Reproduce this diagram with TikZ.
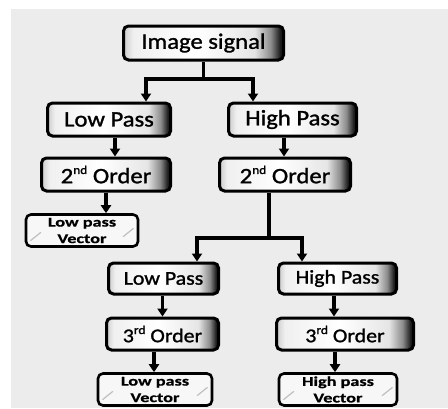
\documentclass[tikz,border=0pt]{standalone}
\usepackage{fontspec}
\setmainfont{Carlito}
\newfontfamily\bigf[FakeStretch=1.12,FakeBold=1.3]{Carlito}
\newfontfamily\smallf[FakeStretch=1.35,FakeBold=0.8]{Carlito}
\newcommand\ordsup[1]{\raisebox{0.42em}{\fontsize{12}{12}\selectfont #1}}
\usetikzlibrary{arrows.meta}
\definecolor{bg}{HTML}{ECECEC}
\pgfdeclarehorizontalshading{boxsh}{100bp}{color(0bp)=(black!20); color(25bp)=(black!20); color(28bp)=(black!6); color(48bp)=(white); color(66bp)=(black!10); color(71bp)=(black!45); color(74bp)=(black!90); color(100bp)=(black!90)}
\begin{document}
\begin{tikzpicture}[x=1pt,y=-1pt,
  bigbox/.style={draw=black, line width=3pt, rounded corners=5pt, shading=boxsh,
    minimum height=33pt, inner sep=0pt, font=\bigf\fontsize{22}{24}\selectfont},
  lowbox/.style={bigbox, minimum height=31pt, font=\bigf\fontsize{19.5}{22}\selectfont},
  vecbox/.style={draw=black, line width=2.6pt, rounded corners=5pt, fill=black!3,
    minimum height=32pt, inner sep=0pt, align=center,
    font=\smallf\bfseries\fontsize{13.5}{16.5}\selectfont},
  streak/.style={draw=black!25, line width=1.2pt, line cap=round},
  ln/.style={line width=3.3pt},
  arr/.style={line width=3.3pt, -{Triangle[width=10pt,length=8pt]}}]
\useasboundingbox (0,0) rectangle (448,408);
\fill[bg] (11,9) rectangle (448,408);

% boxes
\node[bigbox, minimum width=160pt, minimum height=34pt] (img) at (203.5,43) {Image signal};
\node[bigbox, minimum width=123pt] (lp1) at (109,119.5) {Low Pass};
\node[bigbox, minimum width=128pt] (hp1) at (292.5,119.5) {High Pass};
\node[bigbox, minimum width=129pt] (o2l) at (106,174.5) {2\ordsup{nd} Order};
\node[bigbox, minimum width=131pt] (o2r) at (285,174.5) {2\ordsup{nd} Order};
\node[vecbox, minimum width=112pt] (vl1) at (82,230.5) {Low pass\\Vector};
\node[lowbox, minimum width=110pt] (lp2) at (163.5,278.5) {Low Pass};
\node[lowbox, minimum width=118pt] (hp2) at (337.5,278.5) {High Pass};
\node[lowbox, minimum width=112pt, minimum height=32pt] (o3l) at (162.5,334) {3\ordsup{rd} Order};
\node[lowbox, minimum width=137pt, minimum height=32pt] (o3r) at (345,334) {3\ordsup{rd} Order};
\node[vecbox, minimum width=114pt] (vl2) at (155,389.5) {Low pass\\Vector};
\node[vecbox, minimum width=118pt] (vh2) at (338,389.5) {High pass\\Vector};

% streaks on vector boxes
\foreach \b in {vl1,vl2,vh2}{
  \draw[streak] ([shift={(6,10)}]\b.west) -- ([shift={(16,2)}]\b.west);
  \draw[streak] ([shift={(-16,6)}]\b.east) -- ([shift={(-6,-2)}]\b.east);
}

% connectors: first split
\coordinate (j1) at (204,79);
\coordinate (jl) at (146,79);
\coordinate (jr) at (253,79);
\draw[ln] (img.south) -- (img.south |- j1);
\draw[ln, line cap=rect] (jl) -- (jr);
\draw[arr] (jl) -- (jl |- lp1.north);
\draw[arr] (jr) -- (jr |- hp1.north);

\draw[arr] ([xshift=6pt]lp1.south) -- ([xshift=6pt]lp1.south |- o2l.north);
\draw[arr] ([xshift=-8.5pt]hp1.south) -- ([xshift=-8.5pt]hp1.south |- o2r.north);
\draw[arr] (o2l.south) -- (o2l.south |- vl1.north);

% second split
\coordinate (j2) at (269,238);
\coordinate (kl) at (197,238);
\coordinate (kr) at (302,238);
\draw[ln] ([xshift=-16pt]o2r.south) -- (j2);
\draw[ln, line cap=rect] (kl) -- (kr);
\draw[arr] (kl) -- (kl |- lp2.north);
\draw[arr] (kr) -- (kr |- hp2.north);

\draw[arr] ([xshift=-1pt]lp2.south) -- ([xshift=-1pt]lp2.south |- o3l.north);
\draw[arr] ([xshift=-3.5pt]hp2.south) -- ([xshift=-3.5pt]hp2.south |- o3r.north);
\draw[arr] ([xshift=-8.5pt]o3l.south) -- ([xshift=-8.5pt]o3l.south |- vl2.north);
\draw[arr] ([xshift=-10pt]o3r.south) -- ([xshift=-10pt]o3r.south |- vh2.north);
\end{tikzpicture}
\end{document}
